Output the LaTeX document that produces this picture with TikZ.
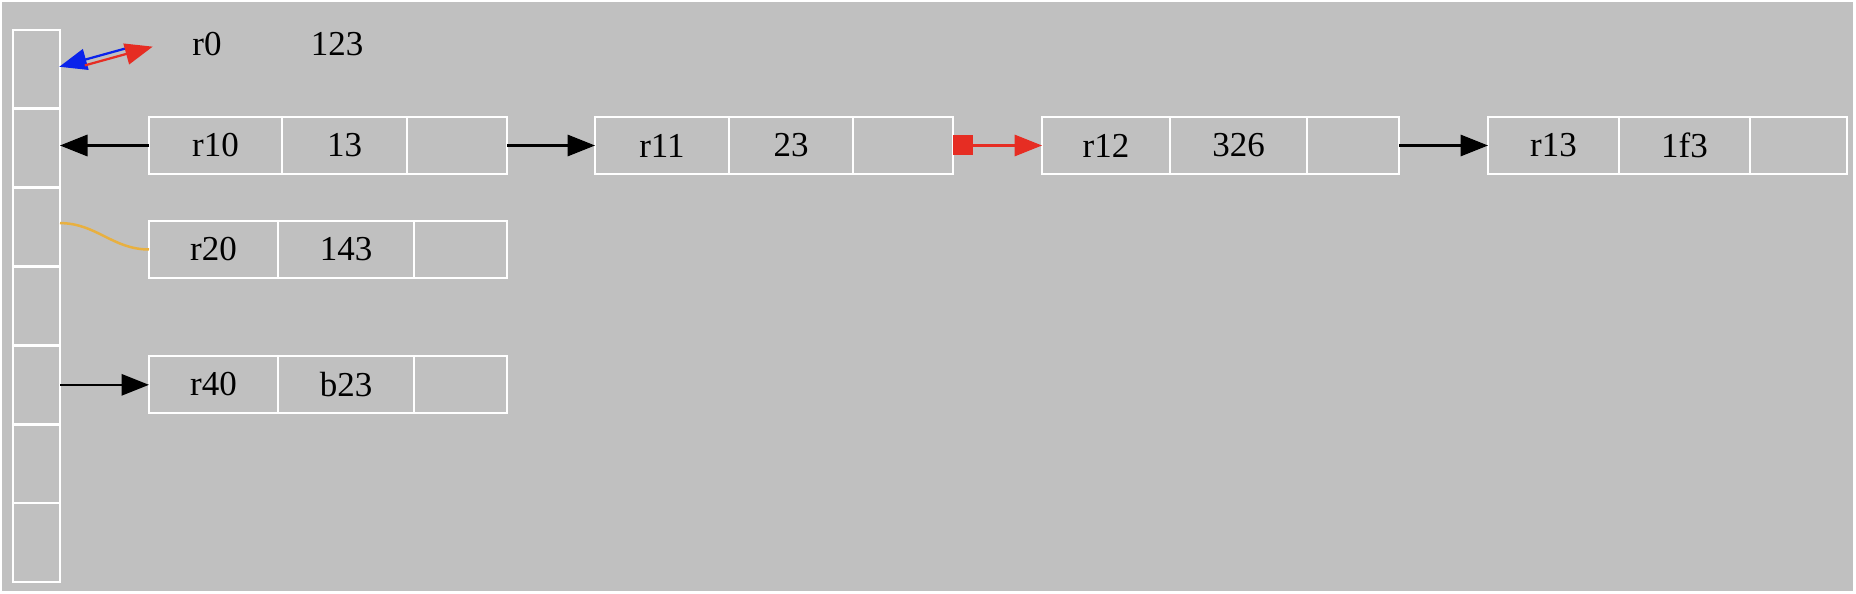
\documentclass[tikz,border=0pt]{standalone}
\usepackage{fontspec}
\setmainfont{Liberation Serif}
\usetikzlibrary{positioning,arrows.meta}
\definecolor{bggrey}{RGB}{192,192,192}
\definecolor{ptrred}{RGB}{230,45,35}
\definecolor{ptrblue}{RGB}{10,35,235}
\definecolor{ptrgold}{RGB}{232,176,64}

\begin{document}
\begin{tikzpicture}[x=1pt,y=-1pt,
	fld/.style={draw=white, line width=1.1pt, outer sep=0pt, minimum height=22.8pt, font=\fontsize{14}{16}\selectfont},
	slot/.style={draw=white, line width=1.1pt, outer sep=0pt, minimum width=18.8pt, minimum height=31.54pt},
	ptr/.style={black, line width=1pt, -{Triangle[length=11pt,width=8.5pt]}}]
	\tikzstyle{every node}+=[inner sep=0pt]
	\useasboundingbox (0,0) rectangle (742.4,237.6);
	\fill [bggrey] (0.8,0.8) rectangle (741.2,236.4);
	% hash slots
	\node [slot] (s0) at (14.6,27.77) {};
	\node [slot, below=0pt of s0] (s1) {};
	\node [slot, below=0pt of s1] (s2) {};
	\node [slot, below=0pt of s2] (s3) {};
	\node [slot, below=0pt of s3] (s4) {};
	\node [slot, below=0pt of s4] (s5) {};
	\node [slot, below=0pt of s5] (s6) {};
	% r0
	\node [fld, draw=none, minimum width=44pt] (r0k) at (82.8,17.6) {r0};
	\node [fld, draw=none, minimum width=60pt, right=0pt of r0k] (r0v) {123};
	% r1x chain
	\node [fld, minimum width=53.2pt, anchor=west] (r10k) at (59.6,58.2) {r10};
	\node [fld, minimum width=50pt, right=0pt of r10k] (r10v) {13};
	\node [fld, minimum width=40pt, right=0pt of r10v] (r10n) {};
	\node [fld, minimum width=53.6pt, anchor=west] (r11k) at (238,58.2) {r11};
	\node [fld, minimum width=49.6pt, right=0pt of r11k] (r11v) {23};
	\node [fld, minimum width=40pt, right=0pt of r11v] (r11n) {};
	\node [fld, minimum width=51.2pt, anchor=west] (r12k) at (416.8,58.2) {r12};
	\node [fld, minimum width=54.8pt, right=0pt of r12k] (r12v) {326};
	\node [fld, minimum width=36.8pt, right=0pt of r12v] (r12n) {};
	\node [fld, minimum width=52.4pt, anchor=west] (r13k) at (595.2,58.2) {r13};
	\node [fld, minimum width=52.4pt, right=0pt of r13k] (r13v) {1f3};
	\node [fld, minimum width=38.8pt, right=0pt of r13v] (r13n) {};
	% r20
	\node [fld, minimum width=51.6pt, anchor=west] (r20k) at (59.6,99.8) {r20};
	\node [fld, minimum width=54.4pt, right=0pt of r20k] (r20v) {143};
	\node [fld, minimum width=37.2pt, right=0pt of r20v] (r20n) {};
	% r40
	\node [fld, minimum width=51.6pt, anchor=west] (r40k) at (59.6,153.8) {r40};
	\node [fld, minimum width=54.4pt, right=0pt of r40k] (r40v) {b23};
	\node [fld, minimum width=37.2pt, right=0pt of r40v] (r40n) {};
	% pointers
	\draw [ptrblue, line width=0.9pt, {Triangle[length=11pt,width=8.5pt]}-, shorten >=10pt] ([shift={(-0.29pt,1.06pt)}]s0.east) -- ([shift={(-0.29pt,1.06pt)}]r0k.west);
	\draw [ptrred, line width=0.9pt, -{Triangle[length=11pt,width=8.5pt]}, shorten <=10pt] ([shift={(0.29pt,-1.06pt)}]s0.east) -- ([shift={(0.29pt,-1.06pt)}]r0k.west);
	\draw [ptr] (r10k.west) -- (r10k.west -| s1.east);
	\draw [ptr] (r10n.east) -- (r11k.west);
	\draw [ptr, ptrred, {Square[length=8pt,width=8pt]}-{Triangle[length=11pt,width=8.5pt]}] (r11n.east) -- (r12k.west);
	\draw [ptr] (r12n.east) -- (r13k.west);
	\draw [ptrgold, line width=1pt] ([yshift=1.6pt]s2.east) to [out=0, in=180] (r20k.west);
	\draw [ptr] (s4.east) -- (s4.east -| r40k.west);
\end{tikzpicture}
\end{document}
